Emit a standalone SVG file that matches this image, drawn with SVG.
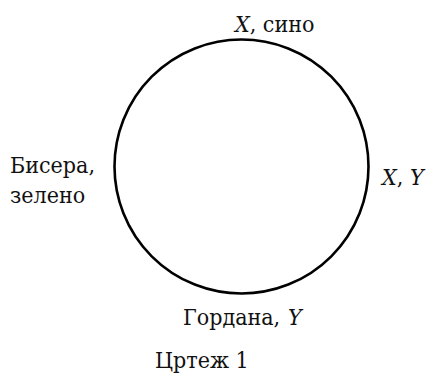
<svg xmlns="http://www.w3.org/2000/svg" width="430" height="374" viewBox="0 0 430 374">
<style>
text{font-family:'DejaVu Serif',serif;font-stretch:condensed;font-size:23px;fill:#111}
.i{font-style:italic}
.c{fill:none;stroke:#000;stroke-width:2.6}
</style>
<rect width="430" height="374" fill="#fff"/>
<g id="circle"><circle class="c" cx="241.5" cy="166.5" r="127"/></g>
<g id="top"><text x="235" y="32"><tspan class="i">X</tspan>, сино</text></g>
<g id="left"><text x="10" y="173">Бисера,</text><text x="10" y="203">зелено</text></g>
<g id="right"><text x="382" y="185"><tspan class="i">X</tspan>, <tspan class="i">Y</tspan></text></g>
<g id="bottom"><text x="183" y="325">Гордана,<tspan class="i" x="288">Y</tspan></text></g>
<g id="caption"><text x="155" y="368">Цртеж 1</text></g>
<g id="connectors"></g>
</svg>
